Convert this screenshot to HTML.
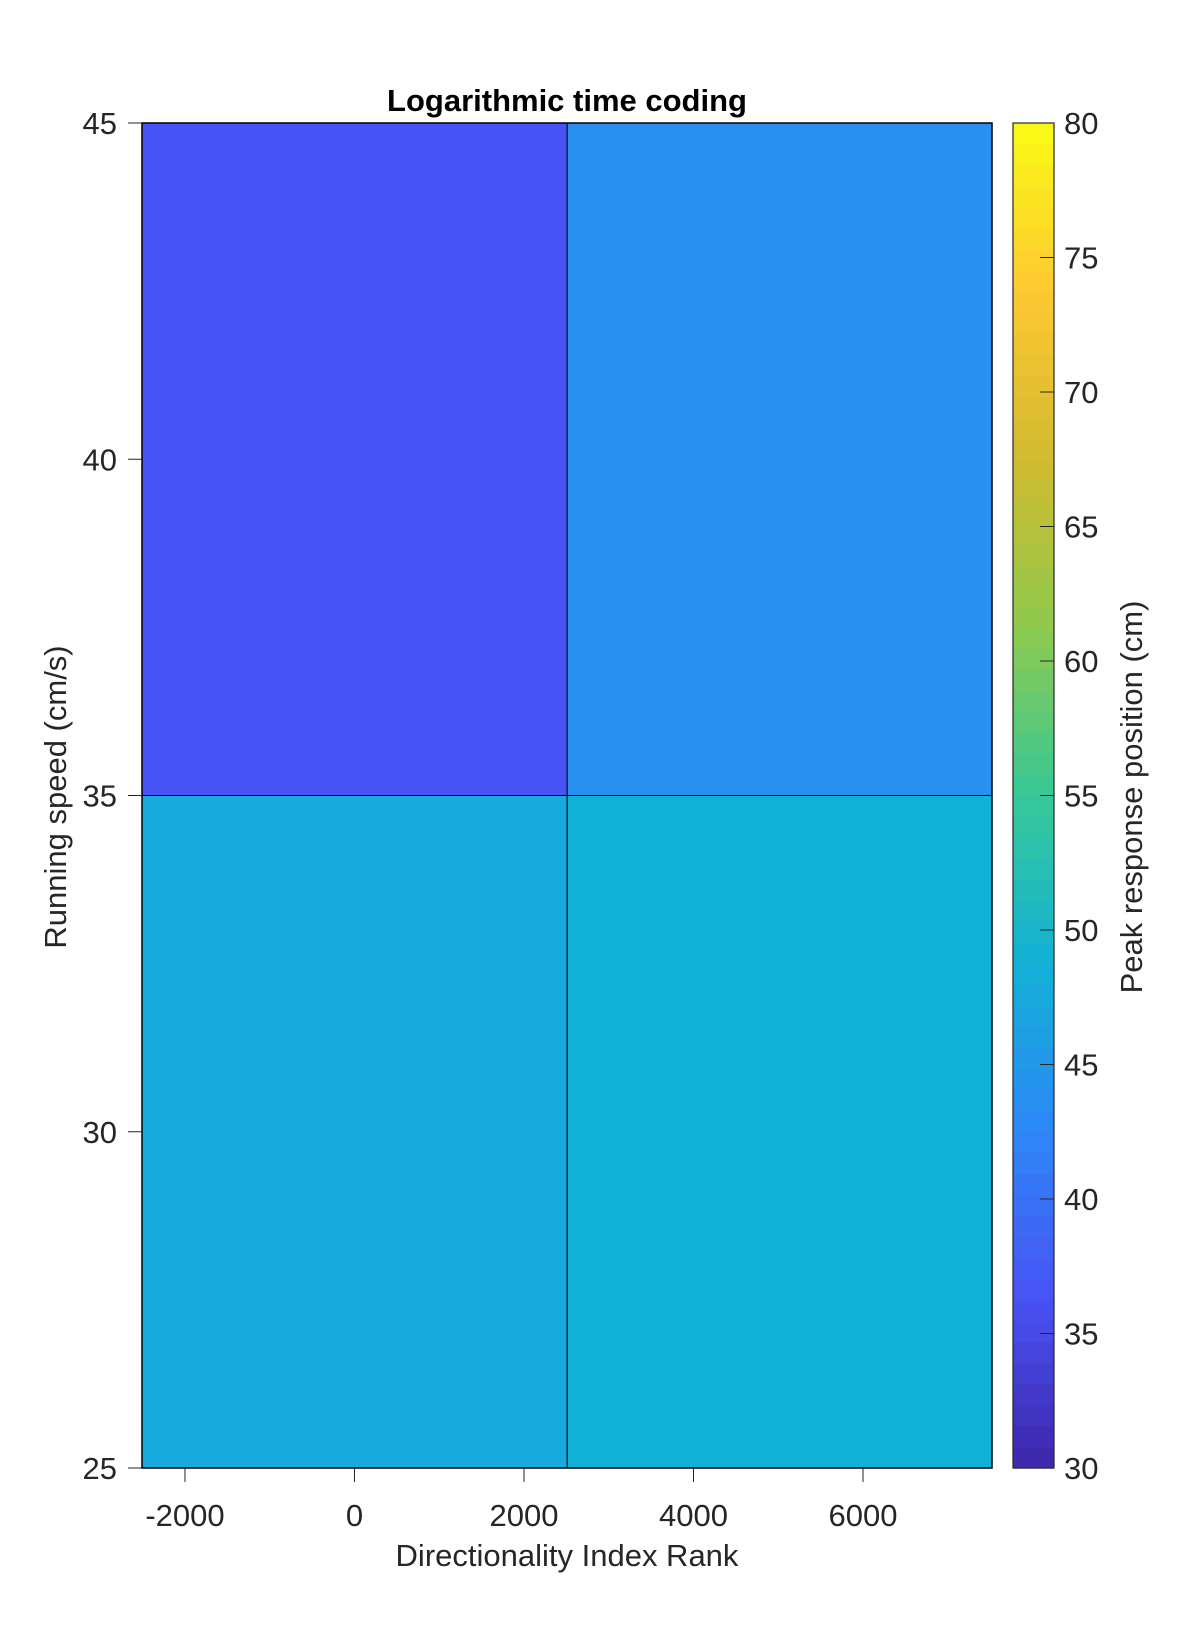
<!DOCTYPE html>
<html><head><meta charset="utf-8">
<style>
html,body{margin:0;padding:0;background:#fff;}
svg{display:block;font-family:"Liberation Sans",Arial,sans-serif;}
</style></head>
<body>
<svg id="chart" width="1200" height="1650" viewBox="0 0 1200 1650">
  <rect width="1200" height="1650" fill="#fff"/>
  <g id="cells"></g>
  <g id="xaxis"></g>
  <g id="yaxis"></g>
  <g id="cbar"></g>
  <text x="567" y="111" text-anchor="middle" font-size="31" font-weight="bold" fill="#000">Logarithmic time coding</text>
  <text x="567" y="1566" text-anchor="middle" font-size="31" fill="#262626">Directionality Index Rank</text>
  <text transform="translate(66,797) rotate(-90)" text-anchor="middle" font-size="31" fill="#262626">Running speed (cm/s)</text>
  <text transform="translate(1142,797) rotate(-90)" text-anchor="middle" font-size="31" fill="#262626">Peak response position (cm)</text>
</svg>
<script>
const xEdges = [-2507, 2510, 7522];
const yEdges = [25, 35, 45];
const cellValues = [[47.5, 48.75], [36.4, 43.7]]; // rows: y bins (bottom, top); cols: x bins
const xTicks = [-2000, 0, 2000, 4000, 6000];
const yTicks = [25, 30, 35, 40, 45];
const cTicks = [30, 35, 40, 45, 50, 55, 60, 65, 70, 75, 80];
const cMin = 30, cMax = 80;

const L = 142, R = 992, T = 123, B = 1468;
const xMin = -2507, xMax = 7522, yMin = 25, yMax = 45;
const sx = v => L + (v - xMin) / (xMax - xMin) * (R - L);
const sy = v => B - (v - yMin) / (yMax - yMin) * (B - T);
const CB_L = 1013, CB_R = 1054;
const sc = v => B - (v - cMin) / (cMax - cMin) * (B - T);

const P = [[0,[62,38,168]],[0.125,[72,82,244]],[0.25,[46,135,247]],[0.375,[18,177,214]],[0.5,[55,200,151]],[0.625,[142,202,78]],[0.75,[209,187,48]],[0.875,[254,200,50]],[1,[249,251,21]]];
function cmap(v){
  let f = Math.max(0, Math.min(1, (v - cMin) / (cMax - cMin)));
  for (let i = 0; i < P.length - 1; i++) {
    if (f <= P[i+1][0]) {
      const t = (f - P[i][0]) / (P[i+1][0] - P[i][0]);
      const c = P[i][1].map((a, k) => Math.round(a + t * (P[i+1][1][k] - a)));
      return `rgb(${c[0]},${c[1]},${c[2]})`;
    }
  }
  return 'rgb(249,251,21)';
}
const NS = 'http://www.w3.org/2000/svg';
function mk(tag, attrs, parent){
  const e = document.createElementNS(NS, tag);
  for (const k in attrs) e.setAttribute(k, attrs[k]);
  parent.appendChild(e); return e;
}
const cells = document.getElementById('cells');
for (let r = 0; r < cellValues.length; r++) {
  for (let c = 0; c < cellValues[r].length; c++) {
    const x0 = sx(xEdges[c]), x1 = sx(xEdges[c+1]);
    const y0 = sy(yEdges[r+1]), y1 = sy(yEdges[r]);
    const el = mk('rect', {x: x0, y: y0, width: x1 - x0, height: y1 - y0, fill: cmap(cellValues[r][c]), stroke: '#000', 'stroke-width': 1}, cells);
    
    
  }
}
const xa = document.getElementById('xaxis');
mk('rect', {x: L, y: T, width: R - L, height: B - T, fill: 'none', stroke: '#000', 'stroke-width': 1.5}, xa);
xTicks.forEach(v => {
  const x = sx(v);
  mk('line', {x1: x, x2: x, y1: B, y2: B + 14, stroke: '#262626', 'stroke-width': 1}, xa);
  const t = mk('text', {x: x, y: 1526, 'text-anchor': 'middle', 'font-size': 31, fill: '#262626'}, xa);
  t.textContent = v;
  
  
});
const ya = document.getElementById('yaxis');
yTicks.forEach(v => {
  const y = sy(v);
  mk('line', {x1: L - 14, x2: L, y1: y, y2: y, stroke: '#262626', 'stroke-width': 1}, ya);
  const t = mk('text', {x: 117, y: y + 11, 'text-anchor': 'end', 'font-size': 31, fill: '#262626'}, ya);
  t.textContent = v;
  
  
});
const cb = document.getElementById('cbar');
const steps = 64;
for (let i = 0; i < steps; i++) {
  const v0 = cMin + i * (cMax - cMin) / steps, v1 = cMin + (i + 1) * (cMax - cMin) / steps;
  mk('rect', {x: CB_L, y: sc(v1), width: CB_R - CB_L, height: sc(v0) - sc(v1) + 0.6, fill: cmap((v0 + v1) / 2)}, cb);
}
mk('rect', {x: CB_L, y: T, width: CB_R - CB_L, height: B - T, fill: 'none', stroke: '#262626', 'stroke-width': 1.2}, cb);
cTicks.forEach(v => {
  const y = sc(v);
  mk('line', {x1: CB_R - 14, x2: CB_R, y1: y, y2: y, stroke: '#262626', 'stroke-width': 1}, cb);
  const t = mk('text', {x: 1064, y: y + 11, 'font-size': 31, fill: '#262626'}, cb);
  t.textContent = v;
  
  
});
</script>
</body></html>
